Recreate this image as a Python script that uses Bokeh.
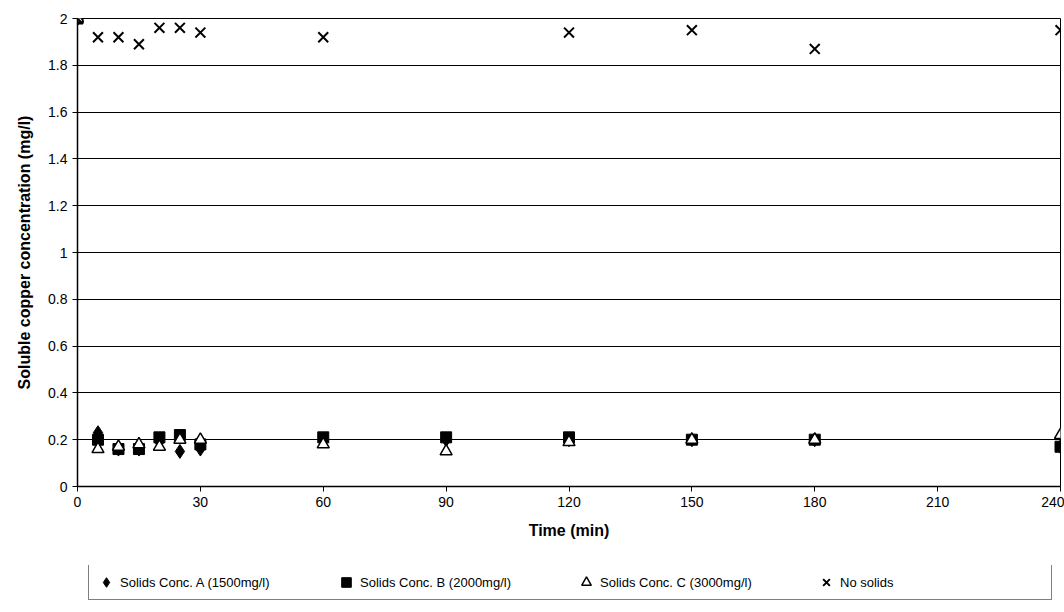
from bokeh.plotting import figure
from bokeh.models import Legend, LegendItem, FixedTicker, Range1d
from bokeh.layouts import column
from bokeh.embed import file_html
from bokeh.resources import INLINE

# ---- data ----
time_abc = [0, 5, 10, 15, 20, 25, 30, 60, 90, 120, 150, 180, 240]
conc_a = [2.0, 0.23, 0.16, 0.16, 0.19, 0.15, 0.16, 0.20, 0.20, 0.20, 0.20, 0.20, 0.17]
conc_b = [2.0, 0.20, 0.16, 0.16, 0.21, 0.22, 0.18, 0.21, 0.21, 0.21, 0.20, 0.20, 0.17]
conc_c = [2.0, 0.16, 0.17, 0.18, 0.17, 0.20, 0.20, 0.18, 0.15, 0.19, 0.20, 0.20, 0.22]
time_x = [0, 5, 10, 15, 20, 25, 30, 60, 120, 150, 180, 240]
conc_x = [2.0, 1.92, 1.92, 1.89, 1.96, 1.96, 1.94, 1.92, 1.94, 1.95, 1.87, 1.95]

x_ticks = [0, 30, 60, 90, 120, 150, 180, 210, 240]
y_ticks = [0, 0.2, 0.4, 0.6, 0.8, 1.0, 1.2, 1.4, 1.6, 1.8, 2.0]
y_tick_labels = ["0", "0.2", "0.4", "0.6", "0.8", "1", "1.2", "1.4", "1.6", "1.8", "2"]

series_labels = ["Solids Conc. A (1500mg/l)", "Solids Conc. B (2000mg/l)",
                 "Solids Conc. C (3000mg/l)", "No solids"]

FONT = "Liberation Sans"


def add_series(fig):
    ra = fig.scatter(time_abc, conc_a, marker="diamond", size=14, fill_color="black", line_color="black")
    rb = fig.scatter(time_abc, conc_b, marker="square", size=11, fill_color="black", line_color="black")
    rc = fig.scatter(time_abc, conc_c, marker="triangle", size=12, fill_color="white",
                     line_color="black", line_width=1.5)
    rx = fig.scatter(time_x, conc_x, marker="x", size=14, line_color="black", line_width=2)
    return [ra, rb, rc, rx]


# ---- main chart ----
p = figure(width=1064, height=565, output_backend="svg", toolbar_location=None,
           x_range=Range1d(0, 240), y_range=Range1d(0, 2))
p.min_border_left = 77
p.min_border_right = 4
p.min_border_top = 18
p.min_border_bottom = 79
p.background_fill_color = "white"
p.border_fill_color = "white"
p.outline_line_color = "black"
p.outline_line_width = 1

p.xgrid.visible = False
p.ygrid.grid_line_color = "black"
p.ygrid.grid_line_width = 1
p.ygrid.grid_line_alpha = 1.0

for ax in (p.xaxis[0], p.yaxis[0]):
    ax.axis_line_color = "black"
    ax.axis_line_width = 1.5
    ax.major_tick_line_color = "black"
    ax.major_tick_out = 5
    ax.major_tick_in = 0
    ax.minor_tick_line_color = None
    ax.major_label_text_font = FONT
    ax.major_label_text_font_size = "14px"
    ax.major_label_text_color = "black"
    ax.axis_label_text_font = FONT
    ax.axis_label_text_font_size = "16px"
    ax.axis_label_text_font_style = "bold"
    ax.axis_label_text_color = "black"

p.xaxis.ticker = FixedTicker(ticks=x_ticks)
p.yaxis.ticker = FixedTicker(ticks=y_ticks)
p.yaxis.major_label_overrides = {t: s for t, s in zip(y_ticks, y_tick_labels)}
p.xaxis.axis_label = "Time (min)"
p.yaxis.axis_label = "Soluble copper concentration (mg/l)"
p.xaxis.axis_label_standoff = 12
p.yaxis.axis_label_standoff = 12

add_series(p)

# ---- legend strip (same series, out of its visible range, only for the key) ----
pl = figure(width=1064, height=47, output_backend="svg", toolbar_location=None,
            x_range=Range1d(0, 240), y_range=Range1d(10, 11),
            x_axis_location=None, y_axis_location=None)
pl.min_border = 0
pl.outline_line_color = None
pl.grid.visible = False
pl.background_fill_color = "white"
pl.border_fill_color = "white"
lr = add_series(pl)

legend = Legend(items=[LegendItem(label=lab, renderers=[r]) for lab, r in zip(series_labels, lr)],
                orientation="horizontal", location=(11, 12))
legend.label_text_font = FONT
legend.label_text_font_size = "13px"
legend.label_text_color = "black"
legend.label_width = 206
legend.label_standoff = 2
legend.glyph_width = 24
legend.glyph_height = 24
legend.spacing = 8
legend.padding = 5
legend.margin = 0
legend.border_line_color = "black"
legend.border_line_width = 1
legend.background_fill_color = "white"
pl.add_layout(legend, "center")

layout = column(p, pl, spacing=0)
open("out.html", "w").write(file_html(layout, INLINE))
